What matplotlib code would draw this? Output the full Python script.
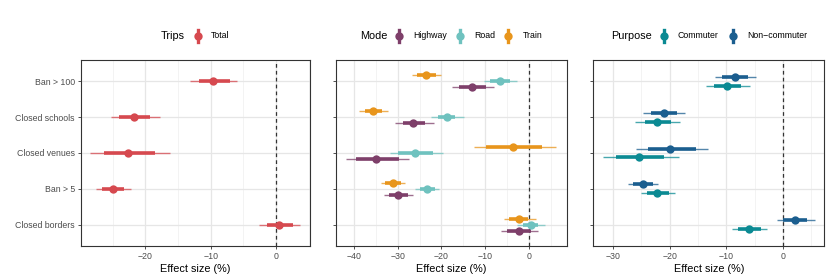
import matplotlib
matplotlib.use("Agg")
import matplotlib.pyplot as plt
from matplotlib.lines import Line2D
from matplotlib.ticker import MultipleLocator
import numpy as np

plt.rcParams['font.family'] = ['Liberation Sans', 'DejaVu Sans']

categories = ["Ban > 100", "Closed schools", "Closed venues", "Ban > 5", "Closed borders"]

# Panel 1: Trips / Total
total_est = [-9.6, -21.7, -22.6, -25.0, 0.5]
total_lo50 = [-11.8, -24.0, -26.4, -26.7, -1.4]
total_hi50 = [-7.1, -19.3, -18.5, -23.2, 2.6]
total_lo95 = [-13.1, -25.2, -28.4, -27.6, -2.6]
total_hi95 = [-5.95, -17.8, -16.3, -22.2, 3.7]

# Panel 2: Mode
highway_est = [-12.9, -26.4, -35.0, -29.9, -2.2]
highway_lo50 = [-15.9, -28.9, -39.5, -32.0, -4.9]
highway_hi50 = [-9.7, -23.8, -29.8, -27.6, 0.6]
highway_lo95 = [-17.5, -30.6, -41.8, -33.1, -6.4]
highway_hi95 = [-8.0, -21.7, -27.4, -26.4, 2.2]

road_est = [-6.6, -18.8, -26.1, -23.2, 0.4]
road_lo50 = [-8.9, -20.7, -29.9, -24.9, -1.3]
road_hi50 = [-4.2, -16.9, -22.0, -21.5, 2.1]
road_lo95 = [-10.3, -22.4, -31.8, -26.1, -2.8]
road_hi95 = [-2.8, -14.9, -19.7, -20.5, 3.8]

train_est = [-23.5, -35.6, -3.7, -31.1, -2.3]
train_lo50 = [-25.7, -37.5, -9.7, -32.9, -4.5]
train_hi50 = [-21.2, -33.7, 2.9, -29.3, -0.15]
train_lo95 = [-26.7, -38.8, -12.6, -33.8, -5.6]
train_hi95 = [-20.0, -32.2, 6.3, -28.3, 1.6]

# Panel 3: Purpose
comm_est = [-9.9, -22.2, -25.5, -22.2, -6.0]
comm_lo50 = [-12.2, -24.4, -29.5, -24.1, -7.9]
comm_hi50 = [-7.4, -19.7, -21.0, -20.2, -3.9]
comm_lo95 = [-13.6, -26.2, -31.8, -25.0, -9.0]
comm_hi95 = [-5.8, -18.2, -18.4, -19.1, -2.8]

noncomm_est = [-8.4, -21.1, -19.9, -24.7, 2.1]
noncomm_lo50 = [-10.7, -23.3, -23.9, -26.5, 0.06]
noncomm_hi50 = [-6.1, -18.8, -15.4, -22.9, 4.3]
noncomm_lo95 = [-12.0, -24.7, -26.0, -27.4, -1.0]
noncomm_hi95 = [-4.8, -17.3, -13.2, -22.0, 5.6]

C_TOTAL = "#d6494f"
C_HWY = "#7e3f6a"
C_ROAD = "#6fc2bf"
C_TRAIN = "#e8951c"
C_COMM = "#0b8a93"
C_NON = "#1b5e8f"

W, H = 830, 277
fig = plt.figure(figsize=(W / 100, H / 100), dpi=100)

def px_ax(l, r, t, b):
    return [l / W, 1 - b / H, (r - l) / W, (b - t) / H]

ax1 = fig.add_axes(px_ax(81, 310, 60, 246))
ax2 = fig.add_axes(px_ax(335.7, 567.3, 60, 246))
ax3 = fig.add_axes(px_ax(593.3, 824.3, 60, 246))

ypos = np.arange(len(categories))[::-1] + 1.0  # top = Ban > 100

def draw_series(ax, est, lo50, hi50, lo95, hi95, color, offset):
    y = ypos + offset
    ax.hlines(y, lo95, hi95, color=color, lw=1.0, alpha=0.75, zorder=3)
    ax.hlines(y, lo50, hi50, color=color, lw=2.6, zorder=4)
    ax.plot(est, y, 'o', color=color, ms=6, mec='none', zorder=5)

draw_series(ax1, total_est, total_lo50, total_hi50, total_lo95, total_hi95, C_TOTAL, 0)

draw_series(ax2, highway_est, highway_lo50, highway_hi50, highway_lo95, highway_hi95, C_HWY, -0.167)
draw_series(ax2, road_est, road_lo50, road_hi50, road_lo95, road_hi95, C_ROAD, 0)
draw_series(ax2, train_est, train_lo50, train_hi50, train_lo95, train_hi95, C_TRAIN, 0.167)

draw_series(ax3, comm_est, comm_lo50, comm_hi50, comm_lo95, comm_hi95, C_COMM, -0.125)
draw_series(ax3, noncomm_est, noncomm_lo50, noncomm_hi50, noncomm_lo95, noncomm_hi95, C_NON, 0.125)

xlims = [(-29.85, 5.2), (-44.2, 8.8), (-33.5, 7.3)]
for ax, xl in zip([ax1, ax2, ax3], xlims):
    ax.set_xlim(*xl)
    ax.set_ylim(0.4, 5.6)
    ax.xaxis.set_major_locator(MultipleLocator(10))
    ax.xaxis.set_minor_locator(MultipleLocator(5))
    ax.grid(True, which='major', axis='both', color='#e6e6e6', lw=0.9, zorder=0)
    ax.grid(True, which='minor', axis='x', color='#efefef', lw=0.5, zorder=0)
    ax.set_axisbelow(True)
    ax.axvline(0, color='#333333', lw=0.9, ls=(0, (3, 2.5)), zorder=2)
    ax.set_yticks(ypos)
    ax.set_yticklabels(categories if ax is ax1 else [])
    ticks = [t for t in ax.get_xticks() if xl[0] <= t <= xl[1]]
    ax.set_xticks(ticks)
    ax.set_xticklabels([("\u2212%d" % -v if v < 0 else "%d" % v) for v in ticks])
    ax.set_xlim(*xl)
    ax.tick_params(axis='both', which='major', length=2.5, width=0.6, color='#333333',
                   labelsize=6.3, labelcolor='#4d4d4d', pad=2)
    ax.tick_params(axis='x', which='minor', length=0)
    for s in ax.spines.values():
        s.set_color('#333333')
        s.set_linewidth(0.8)
    ax.set_xlabel("Effect size (%)", fontsize=7.8, labelpad=2, color='black')

# Legends (drawn manually, ggplot style: title on the left)
ly = 1 - 36 / H

def legend_key(xpx, color):
    x = xpx / W
    fig.add_artist(Line2D([x, x], [ly - 6 / H, ly + 6 / H], color=color, lw=2.4,
                          transform=fig.transFigure))
    fig.add_artist(Line2D([x], [ly], marker='o', color=color, ms=6, mec='none',
                          transform=fig.transFigure))

def legend_text(xpx, s, size):
    fig.text(xpx / W, ly, s, fontsize=size, ha='left', va='center', color='black')

legend_text(161, "Trips", 7.8)
legend_key(198, C_TOTAL)
legend_text(211, "Total", 6.3)

legend_text(360.5, "Mode", 7.8)
legend_key(399, C_HWY)
legend_text(413, "Highway", 6.3)
legend_key(460, C_ROAD)
legend_text(474, "Road", 6.3)
legend_key(508, C_TRAIN)
legend_text(522.5, "Train", 6.3)

legend_text(611.5, "Purpose", 7.8)
legend_key(664, C_COMM)
legend_text(677.5, "Commuter", 6.3)
legend_key(733.3, C_NON)
legend_text(747.5, "Non\u2212commuter", 6.3)

fig.savefig("out.png", dpi=100)
